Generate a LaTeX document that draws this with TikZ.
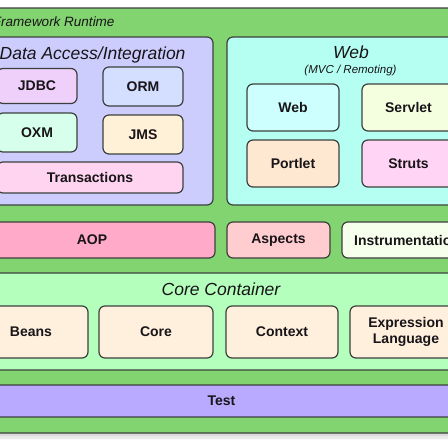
\documentclass[tikz,border=0pt]{standalone}
\usepackage{fontspec}
\setmainfont{Liberation Sans}
\definecolor{outergreen}{RGB}{130,212,112}
\definecolor{dafill}{RGB}{205,205,253}
\definecolor{webfill}{RGB}{180,255,242}
\definecolor{jdbcfill}{RGB}{238,208,250}
\definecolor{ormfill}{RGB}{212,222,255}
\definecolor{oxmfill}{RGB}{214,255,236}
\definecolor{jmsfill}{RGB}{255,240,216}
\definecolor{txfill}{RGB}{255,212,240}
\definecolor{webin}{RGB}{206,255,255}
\definecolor{servletfill}{RGB}{244,255,224}
\definecolor{portletfill}{RGB}{255,232,210}
\definecolor{strutsfill}{RGB}{255,212,244}
\definecolor{aopfill}{RGB}{255,170,200}
\definecolor{aspectsfill}{RGB}{255,205,208}
\definecolor{instrfill}{RGB}{245,255,236}
\definecolor{corefill}{RGB}{180,255,188}
\definecolor{creamfill}{RGB}{255,240,222}
\definecolor{testfill}{RGB}{185,170,255}
\definecolor{bordercol}{RGB}{60,64,60}
\definecolor{textcol}{RGB}{24,20,24}
\tikzset{
  boxline/.style={draw=bordercol, line width=1.2pt, rounded corners=6pt},
  modlabel/.style={inner sep=0pt, text=textcol, font=\fontsize{14}{16}\selectfont\bfseries, align=center},
  grouptitle/.style={inner sep=0pt, text=textcol, font=\fontsize{17.5}{20}\selectfont\itshape},
}
% \modbox{name}{x1}{y1}{x2}{y2}{fill}{label}  (y measured downward)
\newcommand{\modbox}[7]{%
  \filldraw[boxline, fill=#6] (#2,-#3) rectangle (#4,-#5);
  \node[modlabel] (#1) at ({(#2+#4)/2},{-(#3+#5)/2}) {#7};}
\begin{document}
\begin{tikzpicture}[x=1pt,y=1pt]
\useasboundingbox (0,0) rectangle (448,-448);
\fill[white] (0,0) rectangle (448,-448);
\clip (0,0) rectangle (448,-448);
% shadow under outer frame
\fill[black!8, rounded corners=6pt] (-40,-12) rectangle (483,-439);
\fill[black!14, rounded corners=6pt] (-40,-10) rectangle (483,-436);
% outer frame
\filldraw[boxline, fill=outergreen] (-40,-8) rectangle (483,-433);
\node[inner sep=0pt, anchor=base west, text=textcol, font=\fontsize{13.5}{15}\selectfont\itshape] (outertitle) at (-7.2,-26) {Framework Runtime};
% Data Access / Integration
\filldraw[boxline, fill=dafill] (-30,-37) rectangle (213,-205);
\node[grouptitle, anchor=base west] (datitle) at (-0.5,-59) {Data Access/Integration};
\modbox{jdbc}{-3}{68.5}{77}{103.5}{jdbcfill}{JDBC}
\modbox{orm}{103}{67}{183}{106}{ormfill}{ORM}
\modbox{oxm}{-3}{113}{77}{152}{oxmfill}{OXM}
\modbox{jms}{103}{115}{183}{154}{jmsfill}{JMS}
\modbox{tx}{-3}{162}{183}{193}{txfill}{Transactions}
% Web
\filldraw[boxline, fill=webfill] (227,-37) rectangle (475,-205);
\node[grouptitle, anchor=base] (webtitle) at (351,-58.5) {Web};
\node[inner sep=0pt, anchor=base, text=textcol, font=\fontsize{11.5}{13}\selectfont\itshape] (websub) at (350.5,-73.5) {(MVC / Remoting)};
\modbox{web}{247}{84}{339}{131}{webin}{Web}
\modbox{servlet}{362}{84}{455}{131}{servletfill}{Servlet}
\modbox{portlet}{247}{140}{339}{187}{portletfill}{Portlet}
\modbox{struts}{362}{140}{455}{187}{strutsfill}{Struts}
% AOP row
\modbox{aop}{-31}{222}{215}{258}{aopfill}{AOP}
\modbox{aspects}{227}{222}{330}{258}{aspectsfill}{Aspects}
\modbox{instr}{342}{222}{472}{258}{instrfill}{Instrumentation}
% Core container
\filldraw[boxline, fill=corefill] (-30,-273) rectangle (473,-370);
\node[grouptitle, anchor=base] (cctitle) at (221,-295) {Core Container};
\modbox{beans}{-26}{306}{88}{358}{creamfill}{Beans}
\modbox{core}{99}{306}{213}{358}{creamfill}{Core}
\modbox{context}{226}{306}{338}{358}{creamfill}{Context}
\modbox{el}{350}{306}{462}{358}{creamfill}{Expression\\Language}
% Test
\modbox{test}{-30}{385}{473}{417}{testfill}{Test}
\end{tikzpicture}
\end{document}
